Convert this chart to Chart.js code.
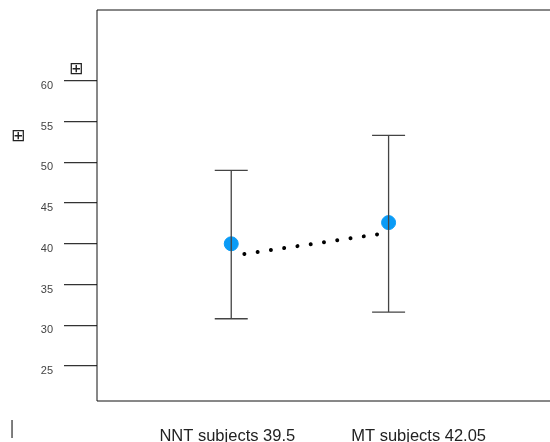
<!DOCTYPE html>
<html>
<head>
<meta charset="utf-8">
<script src="https://cdn.jsdelivr.net/npm/chart.js@4"></script>
<style>
  html, body { margin: 0; padding: 0; background: #fff; }
  #wrap { position: relative; width: 550px; height: 442px; overflow: hidden; }
  .mark { position: absolute; font-family: "DejaVu Sans", sans-serif; color: #222; line-height: 1; }
</style>
</head>
<body>
<div id="wrap">
  <canvas id="chart" width="550" height="442"></canvas>
  <span class="mark" style="left:69px; top:60px; font-size:17px;">⊞</span>
  <span class="mark" style="left:11px; top:127px; font-size:17px;">⊞</span>
  <span class="mark" style="left:9px; top:419px; font-size:18px; color:#555;">|</span>
</div>
<script>
// groups and their positions on the x scale
const groupNames = ['NNT subjects 39.5', 'MT subjects 42.05'];
const groupX = [0.889, 1.931];
const labelX = [0.863, 2.13];

// means and error bar ends
const means = [40.0, 42.6];
const upper = [49.0, 53.3];
const lower = [30.8, 31.6];

// dotted connector
const connectX = [0.976, 1.872];
const connectY = [38.75, 41.2];

const yTicks = [25, 30, 35, 40, 45, 50, 55, 60];

const frameAndBars = {
  id: 'frameAndBars',
  beforeDatasetsDraw(chart) {
    // open frame: the right side runs off the canvas
    const { ctx, chartArea, width } = chart;
    ctx.save();
    ctx.strokeStyle = '#111';
    ctx.lineWidth = 1;
    ctx.beginPath();
    ctx.moveTo(width, chartArea.top);
    ctx.lineTo(chartArea.left, chartArea.top);
    ctx.lineTo(chartArea.left, chartArea.bottom);
    ctx.lineTo(width, chartArea.bottom);
    ctx.stroke();
    ctx.restore();
  },
  afterDatasetsDraw(chart) {
    const { ctx, scales } = chart;
    ctx.save();
    ctx.strokeStyle = '#444';
    ctx.lineWidth = 1.3;
    groupX.forEach((gx, i) => {
      const x = scales.x.getPixelForValue(gx);
      const top = scales.y.getPixelForValue(upper[i]);
      const bottom = scales.y.getPixelForValue(lower[i]);
      ctx.beginPath();
      ctx.moveTo(x, top);
      ctx.lineTo(x, bottom);
      ctx.moveTo(x - 16.5, top);
      ctx.lineTo(x + 16.5, top);
      ctx.moveTo(x - 16.5, bottom);
      ctx.lineTo(x + 16.5, bottom);
      ctx.stroke();
    });
    ctx.restore();
  }
};

new Chart(document.getElementById('chart'), {
  type: 'scatter',
  data: {
    datasets: [
      {
        type: 'line',
        data: connectX.map((x, i) => ({ x: x, y: connectY[i] })),
        borderColor: '#000',
        borderWidth: 4,
        borderDash: [0.01, 13.4],
        borderCapStyle: 'round',
        pointRadius: 0,
        fill: false,
        order: 3
      },
      {
        data: groupX.map((x, i) => ({ x: x, y: means[i] })),
        backgroundColor: '#0a9bf6',
        borderColor: '#0a9bf6',
        pointRadius: 7,
        pointHoverRadius: 7,
        order: 0
      }
    ]
  },
  options: {
    responsive: false,
    animation: false,
    layout: {
      autoPadding: false,
      padding: { top: 10, right: -2, left: 0, bottom: 0 }
    },
    scales: {
      x: {
        type: 'linear',
        min: 0,
        max: 3,
        grid: { display: false, drawTicks: false },
        border: { display: false },
        afterBuildTicks: (scale) => {
          scale.ticks = labelX.map(v => ({ value: v }));
        },
        afterFit: (scale) => {
          scale.height = 41;
          scale.paddingLeft = 0;
          scale.paddingRight = 0;
        },
        ticks: {
          autoSkip: false,
          maxRotation: 0,
          padding: 26,
          color: '#222',
          font: { family: 'Liberation Sans, Arial, sans-serif', size: 16.5 },
          callback: (value, index) => groupNames[index]
        }
      },
      y: {
        min: 20.7,
        max: 68.7,
        border: { display: false },
        grid: {
          drawOnChartArea: false,
          drawTicks: true,
          tickLength: 33,
          color: '#333',
          lineWidth: 1.3
        },
        afterBuildTicks: (scale) => {
          scale.ticks = yTicks.map(v => ({ value: v }));
        },
        afterFit: (scale) => {
          scale.width = 97;
          scale.paddingTop = 0;
          scale.paddingBottom = 0;
        },
        ticks: {
          padding: 11,
          labelOffset: 5,
          color: '#444',
          font: { family: 'Liberation Sans, Arial, sans-serif', size: 11 }
        }
      }
    },
    plugins: {
      legend: { display: false },
      title: { display: false },
      tooltip: { enabled: false }
    }
  },
  plugins: [frameAndBars]
});
</script>
</body>
</html>
